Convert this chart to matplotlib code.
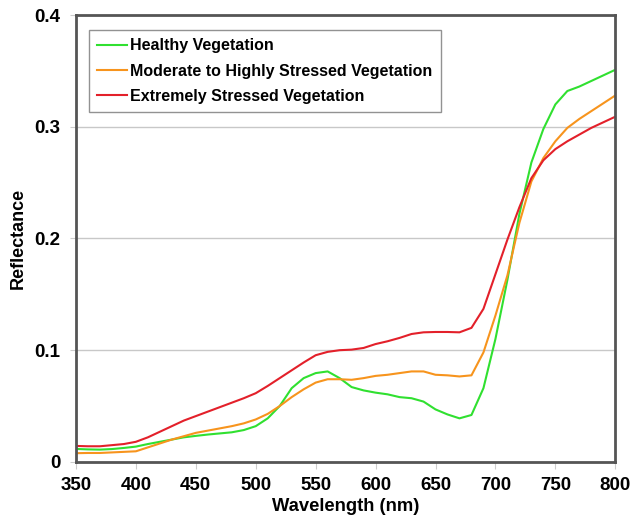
import numpy as np
import matplotlib
matplotlib.use('Agg')
import matplotlib.pyplot as plt

plt.rcParams['font.family'] = ['Liberation Sans', 'DejaVu Sans']
plt.rcParams['font.weight'] = 'bold'

# wavelength grid (nm), 10 nm steps
wavelength = np.arange(350, 801, 10)

healthy = [0.0116, 0.0112, 0.0110, 0.0115, 0.0125, 0.0137, 0.0160, 0.0180, 0.0200, 0.0220,
           0.0233, 0.0245, 0.0255, 0.0265, 0.0285, 0.0320, 0.0390, 0.0500, 0.0660, 0.0750,
           0.0795, 0.0810, 0.0750, 0.0670, 0.0640, 0.0620, 0.0605, 0.0580, 0.0570, 0.0540,
           0.0470, 0.0425, 0.0390, 0.0420, 0.0660, 0.1100, 0.1630, 0.2220, 0.2680, 0.2980,
           0.3200, 0.3320, 0.3360, 0.3410, 0.3460, 0.3510]

moderate = [0.0078, 0.0080, 0.0080, 0.0085, 0.0090, 0.0095, 0.0130, 0.0165, 0.0200, 0.0230,
            0.0260, 0.0280, 0.0300, 0.0320, 0.0345, 0.0380, 0.0430, 0.0500, 0.0580, 0.0650,
            0.0710, 0.0740, 0.0740, 0.0735, 0.0750, 0.0770, 0.0780, 0.0795, 0.0810, 0.0810,
            0.0780, 0.0775, 0.0765, 0.0775, 0.0980, 0.1310, 0.1670, 0.2140, 0.2510, 0.2720,
            0.2870, 0.2990, 0.3070, 0.3140, 0.3210, 0.3280]

extreme = [0.0143, 0.0140, 0.0140, 0.0150, 0.0160, 0.0180, 0.0220, 0.0270, 0.0320, 0.0370,
           0.0410, 0.0450, 0.0490, 0.0530, 0.0570, 0.0615, 0.0680, 0.0750, 0.0820, 0.0890,
           0.0955, 0.0985, 0.1000, 0.1005, 0.1020, 0.1055, 0.1080, 0.1110, 0.1145, 0.1160,
           0.1163, 0.1163, 0.1160, 0.1200, 0.1370, 0.1680, 0.1990, 0.2280, 0.2540, 0.2700,
           0.2800, 0.2870, 0.2930, 0.2990, 0.3040, 0.3090]

labels = ['Healthy Vegetation', 'Moderate to Highly Stressed Vegetation',
          'Extremely Stressed Vegetation']
colors = ['#30e030', '#f7941d', '#e3202a']

fig = plt.figure(figsize=(6.33, 5.19), dpi=100)
ax = fig.add_axes([0.120, 0.110, 0.852, 0.861])

for ys, lab, c in zip([healthy, moderate, extreme], labels, colors):
    ax.plot(wavelength, ys, color=c, lw=1.5, label=lab)

ax.set_xlim(350, 800)
ax.set_ylim(0, 0.4)
ax.set_xticks(np.arange(350, 801, 50))
ax.set_yticks([0, 0.1, 0.2, 0.3, 0.4])
ax.set_yticklabels(['0', '0.1', '0.2', '0.3', '0.4'])
ax.yaxis.grid(True, color='#c8c8c8', lw=1)
ax.set_axisbelow(True)

for s in ax.spines.values():
    s.set_color('#555555')
    s.set_linewidth(2)

ax.tick_params(axis='x', length=5, color='#cccccc', pad=6, labelsize=13.5)
ax.tick_params(axis='y', length=4, color='#cccccc', pad=7, labelsize=13.5)

ax.set_xlabel('Wavelength (nm)', fontsize=13.2, fontweight='bold', labelpad=3)
ax.set_ylabel('Reflectance', fontsize=13, fontweight='bold', labelpad=6)

leg = ax.legend(loc='upper left', bbox_to_anchor=(0.024, 0.966), borderaxespad=0,
                fancybox=False, frameon=True, fontsize=11.5, handlelength=1.9,
                handletextpad=0.2, labelspacing=0.65, borderpad=0.5)
leg.get_frame().set_edgecolor('#777777')
leg.get_frame().set_linewidth(1)
for t in leg.get_texts():
    t.set_fontweight('bold')

fig.savefig('out.png', dpi=100)
